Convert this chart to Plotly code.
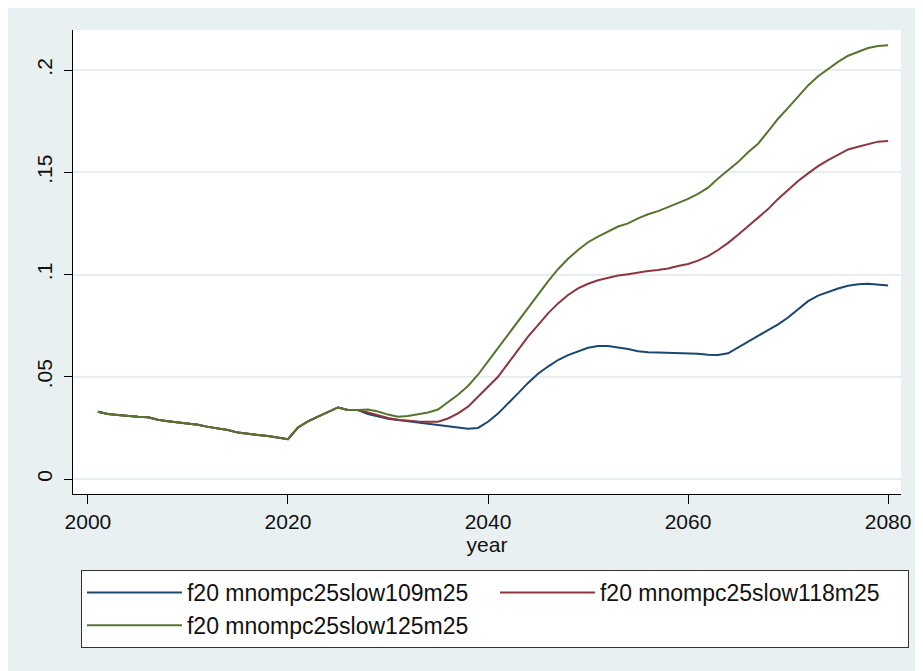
import plotly.graph_objects as go

years = list(range(2001, 2081))

common = [0.0329, 0.0318, 0.0313, 0.0308, 0.0304, 0.0302, 0.0290, 0.0283, 0.0278, 0.0270,
          0.0265, 0.0255, 0.0248, 0.0240, 0.0227, 0.0220, 0.0215, 0.0210, 0.0204, 0.0195,
          0.0252, 0.0282, 0.0305, 0.0328, 0.0350, 0.0338, 0.0337]

s109_tail = [0.0318, 0.0305, 0.0295, 0.0289, 0.0283, 0.0276, 0.0270, 0.0264, 0.0257, 0.0250,
             0.0246, 0.0250, 0.0280, 0.0320, 0.0367, 0.0419, 0.0470, 0.0515, 0.0550, 0.0582,
             0.0606, 0.0624, 0.0642, 0.0650, 0.0650, 0.0643, 0.0636, 0.0625, 0.0620, 0.0619,
             0.0618, 0.0616, 0.0615, 0.0613, 0.0608, 0.0606, 0.0615, 0.0642, 0.0672, 0.0700,
             0.0728, 0.0756, 0.0790, 0.0830, 0.0870, 0.0897, 0.0915, 0.0932, 0.0945, 0.0952,
             0.0955, 0.0950, 0.0946]

s118_tail = [0.0325, 0.0313, 0.0298, 0.0290, 0.0285, 0.0281, 0.0280, 0.0280, 0.0296, 0.0321,
             0.0354, 0.0403, 0.0451, 0.0500, 0.0566, 0.0631, 0.0696, 0.0753, 0.0810, 0.0859,
             0.0900, 0.0932, 0.0955, 0.0972, 0.0985, 0.0995, 0.1002, 0.1010, 0.1017, 0.1022,
             0.1030, 0.1042, 0.1052, 0.1068, 0.1090, 0.1120, 0.1155, 0.1195, 0.1238, 0.1278,
             0.1320, 0.1370, 0.1415, 0.1458, 0.1495, 0.1530, 0.1560, 0.1588, 0.1612, 0.1625,
             0.1638, 0.1650, 0.1653]

s125_tail = [0.0340, 0.0330, 0.0315, 0.0305, 0.0308, 0.0315, 0.0325, 0.0340, 0.0375, 0.0412,
             0.0455, 0.0510, 0.0575, 0.0640, 0.0706, 0.0772, 0.0838, 0.0904, 0.0967, 0.1026,
             0.1077, 0.1120, 0.1158, 0.1185, 0.1212, 0.1235, 0.1250, 0.1275, 0.1295, 0.1310,
             0.1330, 0.1350, 0.1370, 0.1395, 0.1425, 0.1470, 0.1510, 0.1550, 0.1598, 0.1640,
             0.1700, 0.1762, 0.1815, 0.1868, 0.1925, 0.1970, 0.2005, 0.2040, 0.2070, 0.2090,
             0.2108, 0.2118, 0.2122]

s109 = common + s109_tail
s118 = common + s118_tail
s125 = common + s125_tail

names = ["f20 mnompc25slow109m25", "f20 mnompc25slow118m25", "f20 mnompc25slow125m25"]
colors = ["#1a476f", "#90353b", "#55752f"]

ytickvals = [0, 0.05, 0.1, 0.15, 0.2]
yticktext = ["0", ".05", ".1", ".15", ".2"]
xtickvals = [2000, 2020, 2040, 2060, 2080]

FONT = "Liberation Sans, Arial, sans-serif"

fig = go.Figure()
for name, vals, col in zip(names, [s109, s118, s125], colors):
    fig.add_trace(go.Scatter(x=years, y=vals, mode="lines", name=name,
                             line=dict(color=col, width=2)))

OFF = 8  # page body margin
W, H = 923 - OFF, 671 - OFF
L, R, T, B = 73 - OFF, 18, 30 - OFF, 177
pw = W - L - R
ph = H - T - B


def px_x(wx):
    return (wx - OFF - L) / pw


def px_y(wy):
    return ((T + ph) - (wy - OFF)) / ph


fig.update_layout(
    width=W, height=H,
    margin=dict(l=L, r=R, t=T, b=B, pad=0),
    paper_bgcolor="#e8f0f2",
    plot_bgcolor="white",
    font=dict(family=FONT, size=21, color="#111111"),
    showlegend=True,
    legend=dict(
        orientation="h",
        x=px_x(81), xanchor="left",
        y=px_y(570), yanchor="top",
        bgcolor="white", bordercolor="#333333", borderwidth=1,
        font=dict(family=FONT, size=23, color="#111111"),
        itemwidth=95,
        entrywidth=303, entrywidthmode="pixels",
        tracegroupgap=0,
    ),
)

fig.update_xaxes(
    range=[1998.51, 2081.29],
    tickvals=xtickvals, ticktext=[str(v) for v in xtickvals],
    ticks="outside", ticklen=9, tickwidth=1, tickcolor="#000000",
    showline=True, linecolor="#000000", linewidth=1,
    showgrid=False, zeroline=False,
    title=dict(text="year", font=dict(size=21), standoff=2),
    tickfont=dict(size=21),
)
fig.update_yaxes(
    range=[-0.00733, 0.2196],
    tickvals=ytickvals, ticktext=yticktext,
    tickangle=-90,
    ticks="outside", ticklen=8, tickwidth=1, tickcolor="#000000",
    showline=True, linecolor="#000000", linewidth=1,
    showgrid=True, gridcolor="#e6eef0", gridwidth=2,
    zeroline=False,
    tickfont=dict(size=21),
    ticklabelstandoff=4,
)

fig.write_html("out.html")
